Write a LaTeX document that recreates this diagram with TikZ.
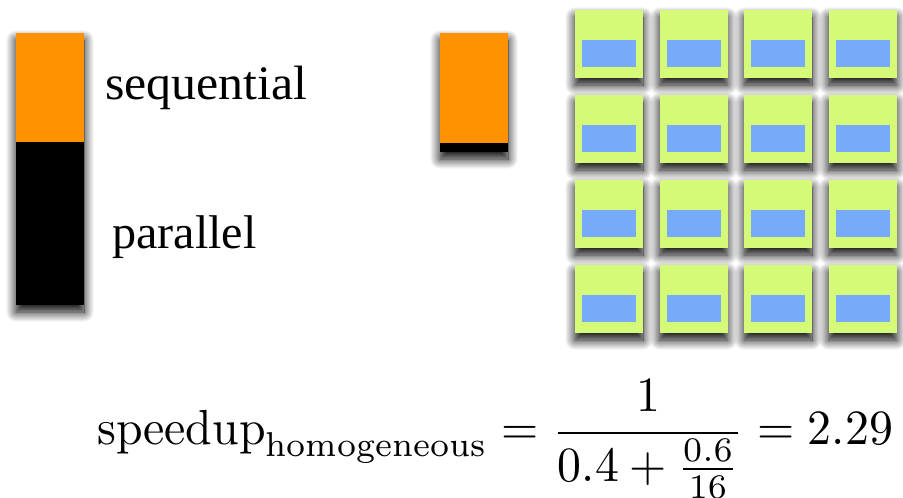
\documentclass[tikz,border=0pt]{standalone}
\usepackage{amsmath}
\usepackage{fontspec}
\newfontfamily\labelfont{Liberation Serif}
\usetikzlibrary{shadows.blur}
\definecolor{seqorange}{RGB}{255,146,0}
\definecolor{tilegreen}{RGB}{213,250,120}
\definecolor{coreblue}{RGB}{120,170,250}
\begin{document}
\begin{tikzpicture}[x=1pt,y=-1pt,
  box/.style={draw=none, inner sep=0pt, outer sep=0pt},
  shadowed/.style={blur shadow={shadow xshift=0pt, shadow yshift=-7pt,
      shadow blur radius=10pt, shadow opacity=100, shadow blur steps=14}},
  tile/.style={box, shadowed, fill=tilegreen, minimum width=68pt, minimum height=68pt},
  core/.style={box, fill=coreblue, minimum width=54pt, minimum height=27pt},
  label/.style={inner sep=0pt, anchor=base west, font=\labelfont\fontsize{43}{50}\selectfont}]
\useasboundingbox (0,0) rectangle (903,498);

% single core: long parallel part under the sequential part
\node[box, shadowed, fill=black, minimum width=68pt, minimum height=272pt] (parbar) at (50,169) {};
\node[box, fill=seqorange, minimum width=68pt, minimum height=109pt] (seqbar) at (50,87.5) {};
\node[label] (seqlabel) at (105,99) {\scalebox{1.16}[1.12]{sequential}};
\node[label] (parlabel) at (112,248) {\scalebox{1.12}[1.1]{parallel}};

% sixteen cores: the parallel part shrinks to a thin strip
\node[box, shadowed, fill=black, minimum width=68pt, minimum height=119pt] (fastpar) at (474,92.5) {};
\node[box, fill=seqorange, minimum width=68pt, minimum height=110pt] (fastseq) at (474,88) {};

% 4x4 grid of homogeneous cores
\foreach \r in {0,...,3}{
  \foreach \c in {0,...,3}{
    \node[tile] (tile-\r-\c) at ({609+84.5*\c},{44+85*\r}) {};
    \node[core] (core-\r-\c) at ({609+84.5*\c},{53.5+85*\r}) {};
  }
}

% speedup formula
\node[inner sep=0pt] (formula) at (495.5,439)
  {\scalebox{1}[1.03]{\resizebox{795pt}{!}{$\displaystyle
   \mathrm{speedup}_{\text{homogeneous}} = \frac{1}{0.4+\frac{0.6}{16}} = 2.29$}}};
\end{tikzpicture}
\end{document}
